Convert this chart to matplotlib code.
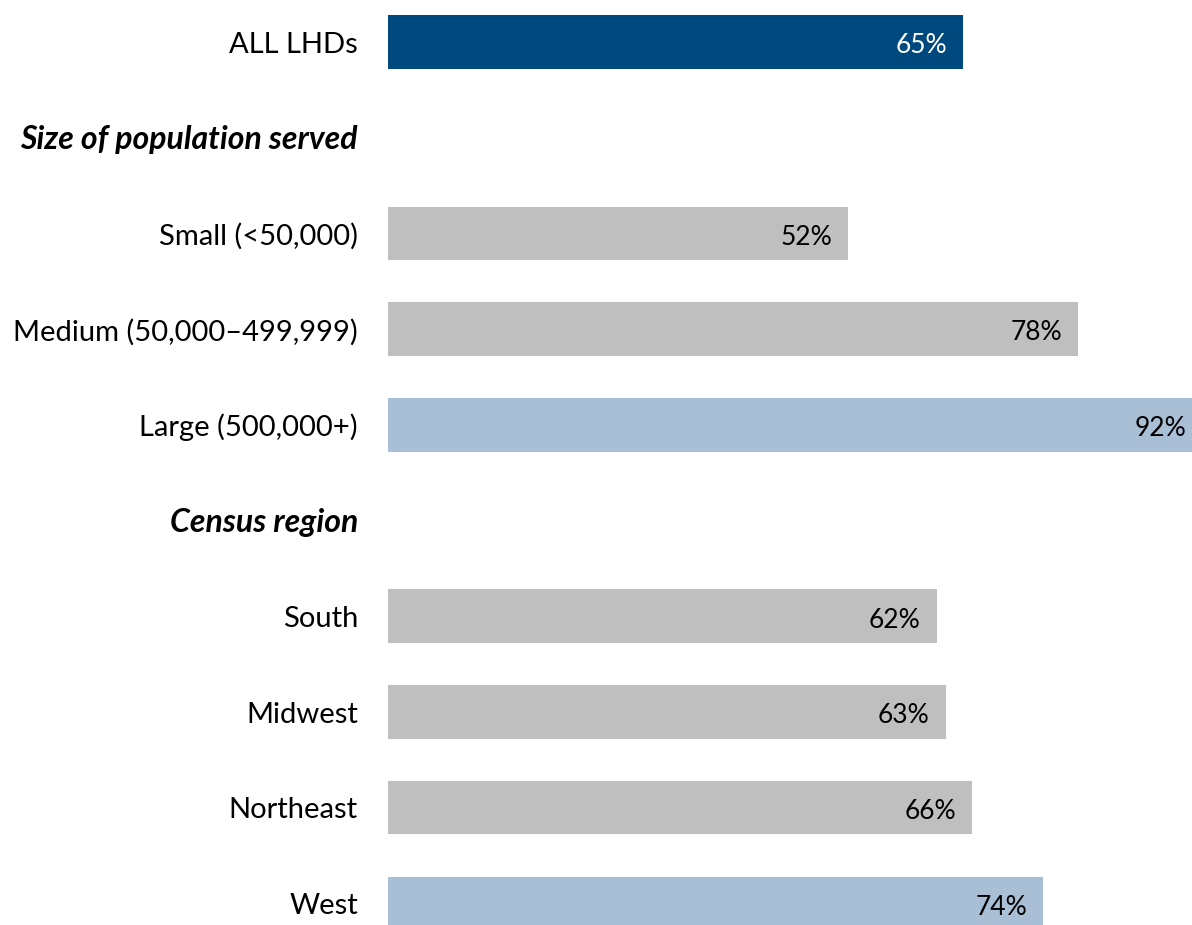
import numpy as np
import matplotlib
matplotlib.use("Agg")
import matplotlib.pyplot as plt

plt.rcParams['font.family'] = ['Lato', 'DejaVu Sans']

labels = ["ALL LHDs", "Size of population served", "Small (<50,000)",
          "Medium (50,000\u2013499,999)", "Large (500,000+)", "Census region",
          "South", "Midwest", "Northeast", "West"]
values = [65, None, 52, 78, 92, None, 62, 63, 66, 74]
colors = ["#00497F", None, "#BFBFBF", "#BFBFBF", "#A9BFD5", None,
          "#BFBFBF", "#BFBFBF", "#BFBFBF", "#A9BFD5"]
is_header = [False, True, False, False, False, True, False, False, False, False]


def main():
	fig = plt.figure(figsize=(11.92, 9.25), dpi=100)
	ax = fig.add_axes([388 / 1192, 0, 1 - 388 / 1192, 1])

	row_h = 95.7
	ax.set_ylim((925 - 42) / row_h, -42 / row_h)
	ax.set_xlim(0, (1192 - 388) / 8.85)

	for i, (lab, v, c, hdr) in enumerate(zip(labels, values, colors, is_header)):
		if hdr:
			ax.text(-30 / 8.85, i + 0.02, lab, ha='right', va='center', fontsize=23,
					fontweight='bold', style='italic', color='black')
			continue
		ax.barh(i, v, height=0.56, color=c, edgecolor='none')
		ax.text(-30 / 8.85, i + 0.03, lab, ha='right', va='center', fontsize=21, color='black')
		txt_col = 'white' if i == 0 else 'black'
		ax.text(v - 1.8, i + 0.04, f"{v}%", ha='right', va='center', fontsize=19, color=txt_col)

	ax.axis('off')
	fig.savefig("out.png", dpi=100)

if __name__ == '__main__':
	main()
